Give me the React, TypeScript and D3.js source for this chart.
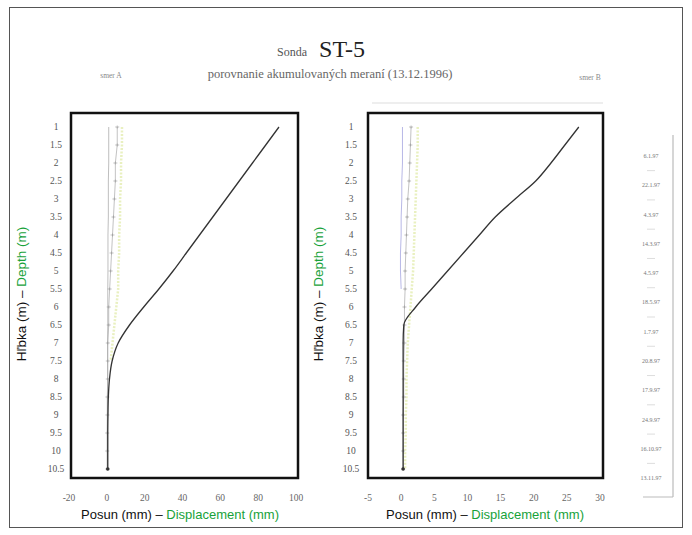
import * as d3 from 'd3';

const depths = [1, 1.5, 2, 2.5, 3, 3.5, 4, 4.5, 5, 5.5, 6, 6.5, 7, 7.5, 8, 8.5, 9, 9.5, 10, 10.5];

// smer A
const leftMain = [91, 84, 77, 70, 63, 56, 49, 42, 35, 27.5, 19.5, 12, 6, 2.8, 1.4, 0.8, 0.6, 0.5, 0.5, 0.5];
const leftPrev = [5.5, 5.5, 4.5, 4.5, 4, 3.5, 3, 2.5, 2, 1.5, 1, 1, 0.5, 0.5, 0.5, 0.3, 0.3, 0.2, 0.2, 0.2];
const leftRef = [1, 1, 1, 0.8, 0.8, 0.8, 0.6, 0.6, 0.6, 0.5, 0.5, 0.5, 0.4, 0.4, 0.4, 0.3, 0.3, 0.3, 0.3, 0.3];
const leftTrace = [8, 8, 7.5, 7.5, 7, 7, 6.5, 6.5, 6, 6, 5, 4, 3, 2];

// smer B
const rightMain = [26.8, 24.7, 22.6, 20.3, 17.2, 14.2, 11.8, 9.4, 7, 4.6, 2.2, 0.4, 0.3, 0.3, 0.3, 0.3, 0.3, 0.3, 0.3, 0.3];
const rightBlue = [0.2, 0.2, 0.2, 0.1, 0.1, 0, 0, -0.1, -0.1, 0];
const rightPrev = [1.5, 1.4, 1.3, 1.2, 1, 0.9, 0.8, 0.7, 0.6, 0.6, 0.5, 0.5, 0.5, 0.4, 0.4, 0.4, 0.3, 0.3, 0.3, 0.3];
const rightTrace = [2.5, 2.5, 2.4, 2.3, 2.2, 2.1, 2, 1.9, 1.8, 1.6, 1.4, 1.2, 1, 0.9, 0.8, 0.8, 0.7, 0.7, 0.6, 0.6];

const leftTicks = [-20, 0, 20, 40, 60, 80, 100];
const rightTicks = [-5, 0, 5, 10, 15, 20, 25, 30];
const dates = ['6.1.97', '22.1.97', '4.3.97', '14.3.97', '4.5.97', '18.5.97', '1.7.97', '20.8.97', '17.9.97', '24.9.97', '16.10.97', '13.11.97'];

const SERIF = '"Liberation Serif", "DejaVu Serif", serif';
const SANS = '"Liberation Sans", Arial, sans-serif';
const GREEN = '#18a23a';

const y = d3.scaleLinear().domain([1, 10.5]).range([127, 469]);

function Panel({ x, box, ticks, main, prev, refLine, refColor, trace, titleX, yLabelX, yTitleX }) {
  const line = (vals, curve = d3.curveLinear) =>
    d3.line<number>().x((d) => x(d)).y((_, i) => y(depths[i])).curve(curve)(vals) || '';
  const last = main.length - 1;
  return (
    <g>
      {/* measurement traces */}
      <path d={line(trace)} fill="none" stroke="#e3ecb0" strokeWidth={2.5} strokeDasharray="2 1.5" opacity={0.8} />
      <path d={line(refLine)} fill="none" stroke={refColor} strokeWidth={0.8} opacity={0.8} />
      <path d={line(prev)} fill="none" stroke="#a8a8a8" strokeWidth={0.7} />
      {prev.map((v, i) => (
        <path key={i} d={`M${x(v) - 2},${y(depths[i])}h4M${x(v)},${y(depths[i]) - 1.5}v3`} stroke="#999" strokeWidth={0.6} />
      ))}
      <path d={line(main, d3.curveMonotoneY)} fill="none" stroke="#333" strokeWidth={1.3} />
      <circle cx={x(main[last])} cy={y(depths[last])} r={1.8} fill="#333" />
      {/* frame */}
      <rect x={box[0]} y={113} width={box[1] - box[0]} height={478 - 113} fill="none" stroke="#111" strokeWidth={2.5} />
      {/* depth labels */}
      {depths.map((d) => (
        <text key={d} x={yLabelX} y={y(d)} dy="0.35em" textAnchor="middle" fontFamily={SERIF} fontSize={9.5} fill="#555">
          {d}
        </text>
      ))}
      {ticks.map((t) => (
        <text key={t} x={x(t)} y={498} dy="0.35em" textAnchor="middle" fontFamily={SERIF} fontSize={9.5} fill="#666">
          {t}
        </text>
      ))}
      <text x={titleX} y={519} textAnchor="middle" fontFamily={SANS} fontSize={13} fill="#111">
        Posun (mm) – <tspan fill={GREEN}>Displacement (mm)</tspan>
      </text>
      <text transform={`translate(${yTitleX},294) rotate(-90)`} textAnchor="middle" fontFamily={SANS} fontSize={13.5} fill="#111">
        Hľbka (m) – <tspan fill={GREEN}>Depth (m)</tspan>
      </text>
    </g>
  );
}

export default function App() {
  const xl = d3.scaleLinear().domain([-20, 100]).range([69, 296]);
  const xr = d3.scaleLinear().domain([-5, 30]).range([368, 600]);
  const sy = d3.scalePoint<string>().domain(dates).range([156, 478]);

  return (
    <svg width={692} height={535} style={{ position: 'absolute', left: 0, top: 0, background: '#fff' }}>
      <rect x={9.5} y={7.5} width={673} height={520} fill="none" stroke="#555" strokeWidth={1} />
      <text x={292} y={56} textAnchor="middle" fontFamily={SERIF} fontSize={12} fill="#555">Sonda</text>
      <text x={342} y={57} textAnchor="middle" fontFamily={SERIF} fontSize={24} fill="#222">ST-5</text>
      <text x={330} y={78} textAnchor="middle" fontFamily={SERIF} fontSize={12.5} fill="#666">
        porovnanie akumulovaných meraní (13.12.1996)
      </text>
      <text x={111} y={78} textAnchor="middle" fontFamily={SERIF} fontSize={7.5} fill="#888">smer A</text>
      <text x={590} y={80} textAnchor="middle" fontFamily={SERIF} fontSize={7.5} fill="#888">smer B</text>
      <line x1={372} x2={603} y1={103} y2={103} stroke="#ddd" strokeWidth={1} />

      <Panel x={xl} box={[71, 298]} ticks={leftTicks} main={leftMain} prev={leftPrev} refLine={leftRef}
        refColor="#999" trace={leftTrace} titleX={180} yLabelX={56} yTitleX={26} />
      <Panel x={xr} box={[368, 603]} ticks={rightTicks} main={rightMain} prev={rightPrev} refLine={rightBlue}
        refColor="#8f8fd8" trace={rightTrace} titleX={485} yLabelX={351} yTitleX={323} />

      {/* date strip */}
      <line x1={673} x2={673} y1={135} y2={497} stroke="#bbb" strokeWidth={1.2} />
      <line x1={643} x2={673} y1={497} y2={497} stroke="#bbb" strokeWidth={1} />
      {dates.map((d, i) => (
        <g key={d}>
          <text x={651} y={sy(d)} dy="0.35em" textAnchor="middle" fontFamily={SERIF} fontSize={6} fill="#777">{d}</text>
          {i < dates.length - 1 && (
            <line x1={647} x2={655} y1={(sy(d)! + sy(dates[i + 1])!) / 2} y2={(sy(d)! + sy(dates[i + 1])!) / 2} stroke="#ddd" />
          )}
        </g>
      ))}
    </svg>
  );
}
